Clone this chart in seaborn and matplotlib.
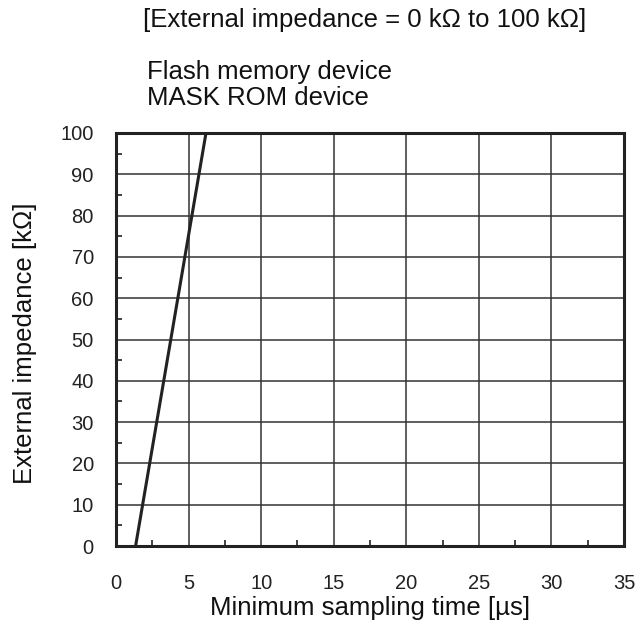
import matplotlib
matplotlib.use("Agg")
import matplotlib.pyplot as plt
import seaborn as sns
import pandas as pd
from matplotlib.ticker import MultipleLocator

sampling_time_us = [1.35, 6.2]
impedance_kohm = [0, 100]
x_ticks = [0, 5, 10, 15, 20, 25, 30, 35]
y_ticks = [0, 10, 20, 30, 40, 50, 60, 70, 80, 90, 100]

sns.set_style("ticks")
plt.rcParams['font.family'] = ['Liberation Sans', 'DejaVu Sans']

df = pd.DataFrame({"t": sampling_time_us, "z": impedance_kohm})

fig = plt.figure(figsize=(6.36, 6.27), dpi=100)
ax = fig.add_axes([116/636, 1-546/627, (624-116)/636, (546-133)/627])

ax.set_xlim(0, 35)
ax.set_ylim(0, 100)
ax.set_xticks(x_ticks)
ax.set_yticks(y_ticks)
ax.xaxis.set_minor_locator(MultipleLocator(2.5))
ax.yaxis.set_minor_locator(MultipleLocator(5))
ax.grid(True, which='major', color='#333333', linewidth=1.1)
ax.tick_params(which='major', length=0, labelsize=14.5, colors='#222222', pad=20)
ax.tick_params(axis='y', which='major', pad=16)
ax.tick_params(which='minor', direction='in', length=4, width=1.2, color='#222222')
ax.tick_params(axis='x', which='minor', bottom=True, top=False)
ax.tick_params(axis='y', which='minor', left=True, right=False)
for s in ax.spines.values():
    s.set_linewidth(2.2)
    s.set_color('#222222')
    s.set_visible(True)

sns.lineplot(data=df, x="t", y="z", ax=ax, color='#222222', linewidth=2.2)

ax.set_xlabel("Minimum sampling time [µs]", fontsize=18.5, color='#111111', labelpad=2)
ax.set_ylabel("External impedance [kΩ]", fontsize=18.5, color='#111111', labelpad=0)
ax.yaxis.set_label_coords(-(116 - 37) / 508, 0.49)

fig.text(143/636, 1-20/627, "[External impedance = 0 kΩ to 100 kΩ]", fontsize=18.5,
         va='center', ha='left', color='#111111')
fig.text(147/636, 1-72/627, "Flash memory device", fontsize=18.5,
         va='center', ha='left', color='#111111')
fig.text(147/636, 1-98/627, "MASK ROM device", fontsize=18.5,
         va='center', ha='left', color='#111111')

fig.savefig("out.png", dpi=100)
